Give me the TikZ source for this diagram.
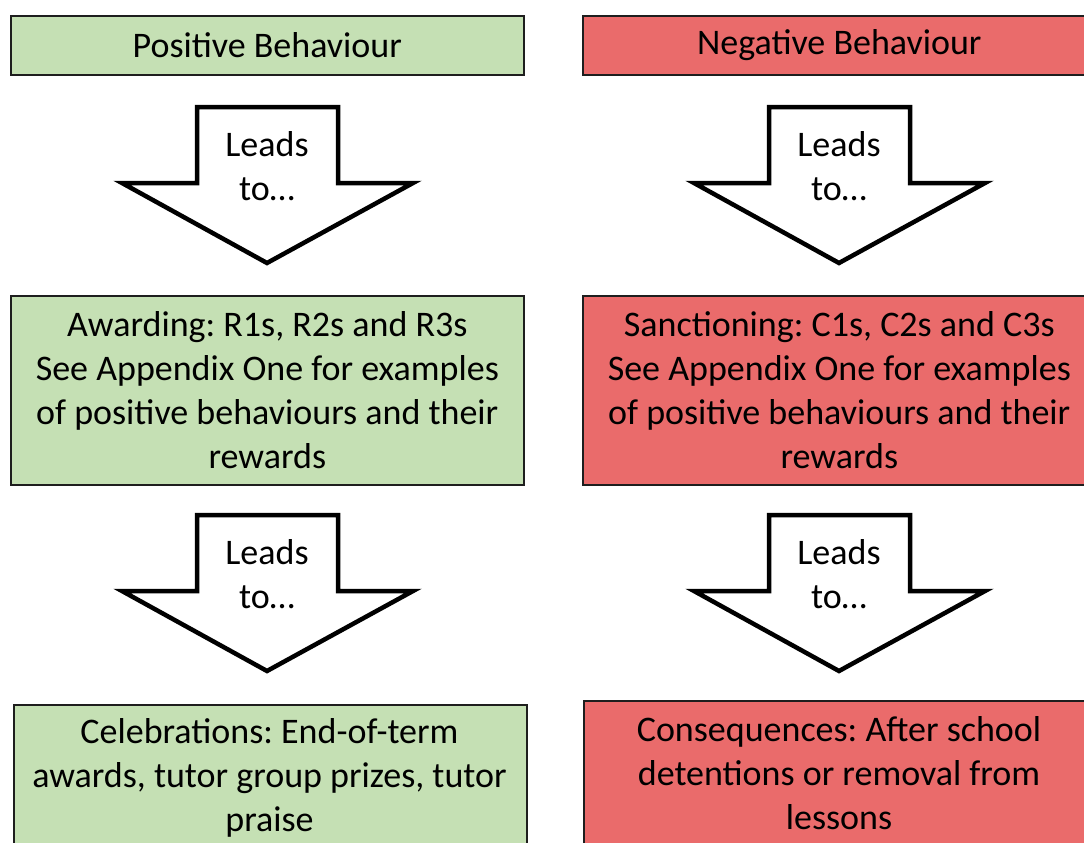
\documentclass[tikz,border=0pt]{standalone}
\usepackage{fontspec}
\setmainfont{Carlito}
\frenchspacing
\definecolor{posgreen}{RGB}{197,224,180}
\definecolor{negred}{RGB}{234,107,107}
\definecolor{edge}{RGB}{30,30,30}
\begin{document}
\begin{tikzpicture}[x=1pt,y=-1pt,
  box/.style={draw=edge,line width=1.6pt,minimum width=513pt,inner sep=0pt,
    align=center,font=\fontsize{36}{44}\selectfont\frenchspacing,text=black},
  posbox/.style={box,fill=posgreen},
  negbox/.style={box,fill=negred},
  arrowshape/.style={draw=black,fill=white,line width=4.5pt,line join=miter},
  arrowtext/.style={align=center,font=\fontsize{36}{44}\selectfont\frenchspacing,inner sep=0pt}]
\useasboundingbox (0,0) rectangle (1084,843);
\clip (0,0) rectangle (1084,843);
% top boxes
\node[posbox,minimum height=59pt,anchor=north west] (pb) at (10,15) {Positive Behaviour};
\node[negbox,minimum height=59pt,anchor=north west] (nb) at (582,15) {Negative Behaviour};
% middle boxes
\node[posbox,minimum height=189pt,anchor=north west] (aw) at (10,295)
  {Awarding: R1s, R2s and R3s\\See Appendix One for examples\\of positive behaviours and their\\rewards};
\node[negbox,minimum height=189pt,anchor=north west] (sa) at (582,295)
  {Sanctioning: C1s, C2s and C3s\\See Appendix One for examples\\of positive behaviours and their\\rewards};
% bottom boxes
\node[posbox,minimum height=160pt,anchor=north west] (ce) at (13,704) {};
\node[arrowtext] (cet) at (269.5,778) {Celebrations: End-of-term\\awards, tutor group prizes, tutor\\praise};
\node[negbox,minimum height=164pt,anchor=north west] (co) at (583,700) {};
\node[arrowtext] (cot) at (839,773) {Consequences: After school\\detentions or removal from\\lessons};
% arrows
\foreach \dx/\dy/\nm in {0/0/a1,572/0/a2,0/408/a3,572/408/a4}{
  \begin{scope}[shift={(\dx,\dy)}]
    \draw[arrowshape] (197,107) -- (338,107) -- (338,183) -- (413,183) -- (267,263)
      -- (122,183) -- (197,183) -- cycle;
    \node[arrowtext] (\nm) at (267,166.5) {Leads\\to…};
  \end{scope}
}
\end{tikzpicture}
\end{document}
